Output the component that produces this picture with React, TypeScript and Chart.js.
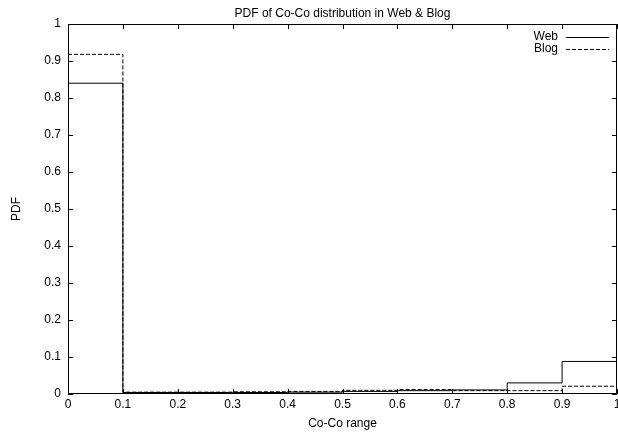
import React, { useEffect, useRef } from "react";
import { Chart, registerables } from "chart.js";

Chart.register(...registerables);

const titleText = "PDF of Co-Co distribution in Web & Blog";
const xAxisTitle = "Co-Co range";
const yAxisTitle = "PDF";
const binEdges = [0, 0.1, 0.2, 0.3, 0.4, 0.5, 0.6, 0.7, 0.8, 0.9, 1.0];
const webValues = [0.84, 0.004, 0.004, 0.004, 0.005, 0.007, 0.009, 0.011, 0.03, 0.088];
const blogValues = [0.918, 0.005, 0.005, 0.006, 0.007, 0.01, 0.012, 0.009, 0.009, 0.021];
const seriesNames = ["Web", "Blog"];
const tickValues = [0, 0.1, 0.2, 0.3, 0.4, 0.5, 0.6, 0.7, 0.8, 0.9, 1];

const FONT = "'Liberation Sans', Arial, Helvetica, sans-serif";

function toSteps(values: number[]) {
  return binEdges.map((x, i) => ({ x, y: values[Math.min(i, values.length - 1)] }));
}

const framePlugin = {
  id: "gnuFrame",
  afterDatasetsDraw(chart: any) {
    const { ctx, chartArea } = chart;
    const { left, right, top, bottom } = chartArea;
    const xs = chart.scales.x;
    const ys = chart.scales.y;
    ctx.save();
    ctx.strokeStyle = "#000";
    ctx.lineWidth = 1;
    ctx.setLineDash([]);
    ctx.beginPath();
    ctx.rect(left + 0.5, top + 0.5, right - left - 1, bottom - top - 1);
    ctx.stroke();
    const tl = 5;
    ctx.beginPath();
    tickValues.forEach((v) => {
      const px = Math.round(xs.getPixelForValue(v)) + 0.5;
      ctx.moveTo(px, bottom);
      ctx.lineTo(px, bottom - tl);
      ctx.moveTo(px, top);
      ctx.lineTo(px, top + tl);
      const py = Math.round(ys.getPixelForValue(v)) + 0.5;
      ctx.moveTo(left, py);
      ctx.lineTo(left + tl, py);
      ctx.moveTo(right, py);
      ctx.lineTo(right - tl, py);
    });
    ctx.stroke();

    // legend
    ctx.font = `12px ${FONT}`;
    ctx.fillStyle = "#000";
    ctx.textAlign = "right";
    ctx.textBaseline = "middle";
    const rows = [
      { name: seriesNames[0], dash: [] as number[], y: 37 },
      { name: seriesNames[1], dash: [4, 2], y: 49 },
    ];
    rows.forEach((r) => {
      ctx.fillText(r.name, 558, r.y);
      ctx.setLineDash(r.dash);
      ctx.beginPath();
      ctx.moveTo(566, r.y + 0.5);
      ctx.lineTo(609, r.y + 0.5);
      ctx.stroke();
    });
    ctx.setLineDash([]);

    // titles
    ctx.textAlign = "center";
    ctx.fillText(titleText, (left + right) / 2, 14);
    ctx.fillText(xAxisTitle, (left + right) / 2, 424);
    ctx.translate(17, (top + bottom) / 2);
    ctx.rotate(-Math.PI / 2);
    ctx.fillText(yAxisTitle, 0, 0);
    ctx.restore();
  },
};

export default function App() {
  const ref = useRef<HTMLCanvasElement | null>(null);
  useEffect(() => {
    if (!ref.current) return;
    const chart = new Chart(ref.current, {
      type: "line",
      data: {
        datasets: [
          {
            label: seriesNames[0],
            data: toSteps(webValues),
            borderColor: "#000",
            borderWidth: 1,
            stepped: "before",
            pointRadius: 0,
            fill: false,
          },
          {
            label: seriesNames[1],
            data: toSteps(blogValues),
            borderColor: "#000",
            borderWidth: 1,
            borderDash: [4, 2],
            stepped: "before",
            pointRadius: 0,
            fill: false,
          },
        ],
      },
      options: {
        responsive: false,
        animation: false,
        layout: { padding: { top: 24, right: 1, left: 0, bottom: 0 } },
        plugins: {
          legend: { display: false },
          title: { display: false },
          tooltip: { enabled: false },
        },
        scales: {
          x: {
            type: "linear",
            min: 0,
            max: 1,
            grid: { display: false, drawTicks: false },
            border: { display: false },
            afterBuildTicks: (s: any) => {
              s.ticks = tickValues.map((v) => ({ value: v }));
            },
            afterFit: (s: any) => {
              s.height = 42;
              s.paddingLeft = 0;
              s.paddingRight = 0;
            },
            ticks: {
              color: "#000",
              padding: 3,
              maxRotation: 0,
              autoSkip: false,
              font: { family: FONT, size: 12 },
              callback: (v: any) => String(Math.round(Number(v) * 10) / 10),
            },
          },
          y: {
            type: "linear",
            min: 0,
            max: 1,
            grid: { display: false, drawTicks: false },
            border: { display: false },
            afterBuildTicks: (s: any) => {
              s.ticks = tickValues.map((v) => ({ value: v }));
            },
            afterFit: (s: any) => {
              s.width = 68;
              s.paddingTop = 0;
              s.paddingBottom = 0;
            },
            ticks: {
              color: "#000",
              padding: 7,
              autoSkip: false,
              font: { family: FONT, size: 12 },
              callback: (v: any) => String(Math.round(Number(v) * 10) / 10),
            },
          },
        },
      },
      plugins: [framePlugin],
    });
    return () => chart.destroy();
  }, []);
  return (
    <div style={{ position: "fixed", left: 0, top: 0, width: 618, height: 436, overflow: "hidden", background: "#fff" }}>
      <canvas ref={ref} width={618} height={436} style={{ display: "block" }} />
    </div>
  );
}
